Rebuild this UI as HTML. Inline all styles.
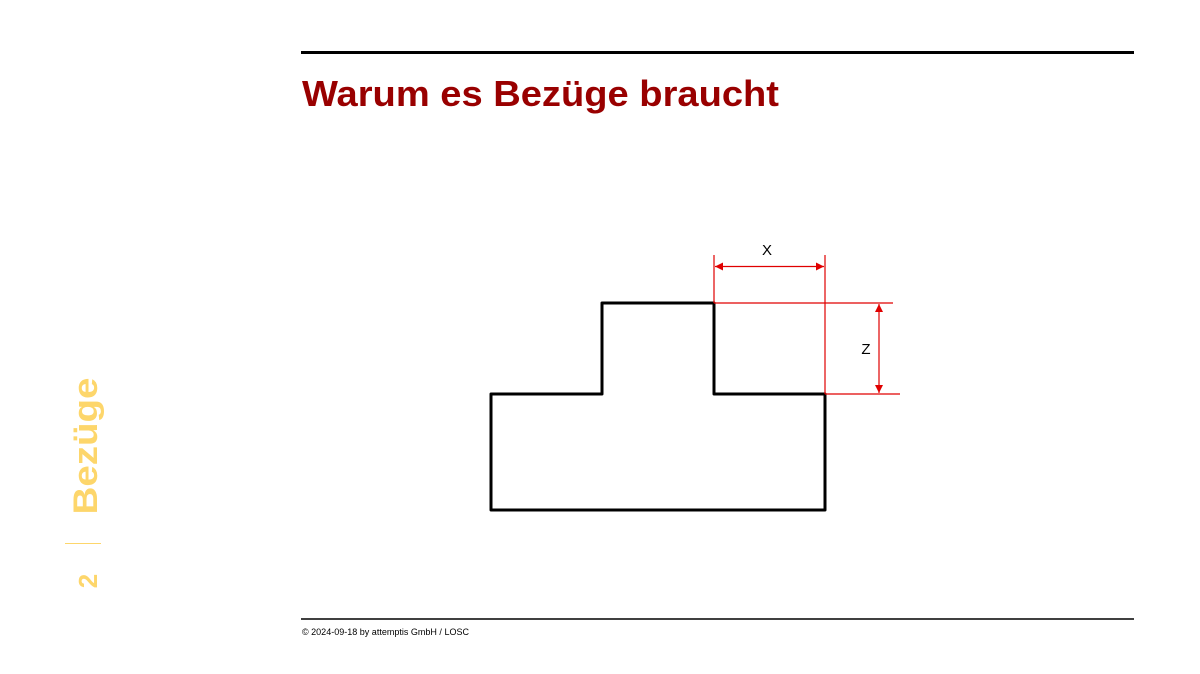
<!DOCTYPE html>
<html><head><meta charset="utf-8"><style>
html,body{margin:0;padding:0;background:#fff;width:1200px;height:674px;overflow:hidden}
svg{display:block}
</style></head><body>
<svg width="1200" height="674" viewBox="0 0 1200 674" xmlns="http://www.w3.org/2000/svg">
<defs>
<marker id="a" viewBox="0 0 10 10" refX="10" refY="5" markerWidth="8" markerHeight="8" markerUnits="userSpaceOnUse" orient="auto-start-reverse"><path d="M0,0 L10,5 L0,10 z" fill="#e00000"/></marker>
</defs>
<line x1="301" y1="52.5" x2="1134" y2="52.5" stroke="#000" stroke-width="3"/>
<text x="302" y="106" font-family="Liberation Sans, sans-serif" font-weight="bold" font-size="36" fill="#990000" textLength="477" lengthAdjust="spacingAndGlyphs">Warum es Bezüge braucht</text>
<path d="M491,510 L491,394 L602,394 L602,303 L714,303 L714,394 L825,394 L825,510 Z" fill="none" stroke="#000" stroke-width="3" stroke-linejoin="round"/>
<g stroke="#e00000" stroke-width="1.2" fill="none">
<line x1="714" y1="255" x2="714" y2="303"/>
<line x1="825" y1="255" x2="825" y2="394"/>
<line x1="714" y1="303" x2="893" y2="303"/>
<line x1="825" y1="394" x2="900" y2="394"/>
<line x1="715" y1="266.5" x2="824" y2="266.5" marker-start="url(#a)" marker-end="url(#a)"/>
<line x1="879" y1="304" x2="879" y2="393" marker-start="url(#a)" marker-end="url(#a)"/>
</g>
<text x="767" y="255" font-family="Liberation Sans, sans-serif" font-size="15" text-anchor="middle" fill="#000">X</text>
<text x="866" y="354" font-family="Liberation Sans, sans-serif" font-size="15" text-anchor="middle" fill="#000">Z</text>
<text transform="translate(97,446) rotate(-90)" font-family="Liberation Sans, sans-serif" font-weight="bold" font-size="34" fill="#fdd66b" text-anchor="middle" textLength="137" lengthAdjust="spacingAndGlyphs">Bezüge</text>
<line x1="65" y1="543.5" x2="101" y2="543.5" stroke="#fdd66b" stroke-width="1"/>
<text transform="translate(97,581) rotate(-90)" font-family="Liberation Sans, sans-serif" font-weight="bold" font-size="26" fill="#fdd66b" text-anchor="middle">2</text>
<line x1="301" y1="619" x2="1134" y2="619" stroke="#000" stroke-width="1.5"/>
<text x="302" y="635" font-family="Liberation Sans, sans-serif" font-size="9" fill="#000" textLength="167" lengthAdjust="spacingAndGlyphs">© 2024-09-18 by attemptis GmbH / LOSC</text>
</svg>
</body></html>
